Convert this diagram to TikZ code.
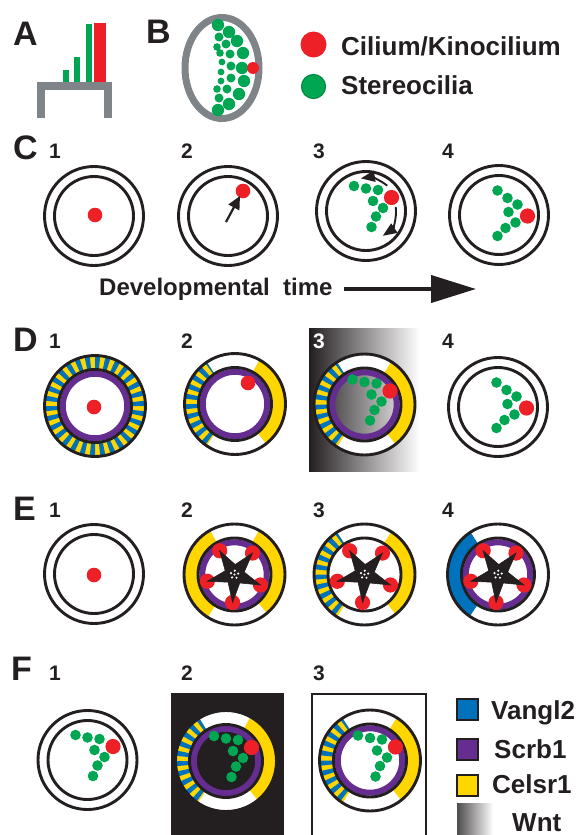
\documentclass[tikz,border=0pt]{standalone}
\usepackage{fontspec}
\setmainfont{Liberation Sans}
\usetikzlibrary{arrows.meta,shapes.geometric}

\definecolor{ink}{HTML}{231F20}
\definecolor{cilred}{HTML}{ED2027}
\definecolor{stereo}{HTML}{00A651}
\definecolor{stereoedge}{HTML}{008A45}
\definecolor{supgray}{HTML}{7F8488}
\definecolor{vblue}{HTML}{0072BC}
\definecolor{scrbpurple}{HTML}{662D91}
\definecolor{celsryellow}{HTML}{FFD600}

\tikzset{
  panel/.style={font=\fontsize{34}{36}\selectfont\bfseries, text=ink, inner sep=0pt, anchor=base west},
  stage/.style={font=\fontsize{21}{24}\selectfont\bfseries, text=ink, inner sep=0pt, anchor=base west},
  keytext/.style={font=\fontsize{26}{30}\selectfont\bfseries, text=ink, inner sep=0pt, anchor=base west},
  ringline/.style={draw=ink, line width=2.9pt},
  keybox/.style={draw=ink, line width=2pt, minimum size=21pt, inner sep=0pt},
  hairstar/.style={star, star points=5, star point ratio=2.8, minimum size=56pt,
    inner sep=0pt, fill=ink, draw=ink, line width=0.6pt, rotate=32},
  plainarrow/.style={draw=ink, line width=2.2pt, -{Triangle[length=13pt,width=12pt]}},
  curlarrow/.style={draw=ink, line width=1.9pt, -{Triangle[length=14pt,width=11pt]}},
}

% plain cell: outer and inner membrane
\newcommand{\twoRing}{\draw[ringline] (0,0) circle (49.5) (0,0) circle (39.5);}
% white band between the two membranes of a labelled cell
\newcommand{\membrane}{\fill[white, even odd rule] (0,0) circle (50.5) (0,0) circle (36.5);}
\newcommand{\membraneLines}{\draw[ringline] (0,0) circle (50.5) (0,0) circle (36.5);}
\newcommand{\scrbRing}{\draw[scrbpurple, line width=6pt] (0,0) circle (32.2);}
% solid coloured sector of the band, #1 to #2 degrees
\newcommand{\solidBand}[3]{\fill[#3] (#1:36.5) arc[start angle=#1,end angle=#2,radius=36.5]
  -- (#2:50.5) arc[start angle=#2,end angle=#1,radius=50.5] -- cycle;}
% blue/yellow striped sector of the band
\newcommand{\stripeBand}[2]{%
  \begin{scope}
    \clip (#1:36.5) arc[start angle=#1,end angle=#2,radius=36.5]
      -- (#2:50.5) arc[start angle=#2,end angle=#1,radius=50.5] -- cycle;
    \fill[celsryellow] (0,0) circle (52);
    \foreach \ang in {0,12,...,348} {\fill[vblue] (0,0) -- (\ang:54) arc[start angle=\ang,end angle=\ang+6,radius=54] -- cycle;}
  \end{scope}}
% kinocilium dot
\newcommand{\kino}[2]{\fill[cilred] (#1,#2) circle (7.3);}
% hair bundle shaped like a seven
\newcommand{\sevenBundle}{%
  \foreach \px/\py in {-12/-25, 0/-22.5, 12/-21, 7/-10, 17/-3, 10/5.5, 5.5/16} {\fill[stereo] (\px,\py) circle (5.3);}
  \fill[cilred] (25.5,-13.5) circle (7.6);}
% chevron hair bundle
\newcommand{\veeBundle}{%
  \foreach \px/\py in {-1.5/-24.5, 8.5/-17, 18.5/-10.5, 9.5/-3, 16.5/7.5, 6.5/13, -1.5/21} {\fill[stereo] (\px,\py) circle (5.3);}
  \fill[cilred] (28.5,1) circle (7.6);}
% star of microtubules with kinocilia at its points
\newcommand{\starCell}[1]{%
  \foreach \idx in {0,...,4} {\fill[cilred] ({122+72*\idx}:28) circle (7.6);}
  \node[hairstar] (#1) at (0,0) {};
  \foreach \idx in {0,...,4} {\fill[white] ({158+72*\idx}:3.8) circle (1.2);}
  \fill[white] (0,0) circle (1.1);}

\begin{document}
\begin{tikzpicture}[x=1pt,y=-1pt]
\useasboundingbox (0,0) rectangle (579,835);

% ---------- A: staircase bundle on the apical surface
\node[panel] (labA) at (13,45) {A};
\fill[stereo] (63,70) rectangle (69,83);
\fill[stereo] (74,57) rectangle (80,83);
\fill[stereo] (86,24) rectangle (92,83);
\fill[cilred] (94,23) rectangle (106,83);
\draw[supgray, line width=8pt] (41,118) -- (41,86) -- (107.5,86) -- (107.5,118);

% ---------- B: top view of the bundle
\node[panel] (labB) at (146,43) {B};
\draw[supgray, line width=7pt] (222,68) ellipse [x radius=37, y radius=50.5];
\foreach \px/\py/\pr in {218/25/6.2, 229/32/6.2, 219/37/4.5, 226/44/4.5, 237/41/6.2,
  217/47/3.8, 220/53/3.8, 230/54/4.5, 243/53/6.2, 222/62/3.4, 231/66/4.5, 242/68/6.2,
  221/72/3.4, 231/78/4.5, 244/81/6.2, 221/81/3.4, 217/89/3.8, 227/89/4.5, 239/94/6.2,
  219/98/4.5, 229/104/6.2, 218/110/6.2}
  {\fill[stereo] (\px,\py) circle (\pr);}
\fill[cilred] (253,68) circle (6);

% ---------- key to the dots
\fill[cilred] (313.5,44.5) circle (13);
\filldraw[fill=stereo, draw=stereoedge, line width=1.2pt] (313.5,86.5) circle (12);
\node[keytext] (kino) at (341,55) {Cilium/Kinocilium};
\node[keytext] (stereo) at (341,94) {Stereocilia};

% ---------- C: development of the bundle
\node[panel] (labC) at (13,159) {C};
\node[stage] (c1) at (49,158) {1};
\node[stage] (c2) at (181,158) {2};
\node[stage] (c3) at (313,158) {3};
\node[stage] (c4) at (442,158) {4};

\begin{scope}[shift={(94,216)}] \twoRing \end{scope}
\kino{95}{215}

\begin{scope}[shift={(228,216)}] \twoRing \end{scope}
\kino{243}{191}
\coordinate (c2tail) at (226,222);
\coordinate (c2tip) at (240,196);
\draw[plainarrow] (c2tail) -- (c2tip);

\begin{scope}[shift={(366,211)}] \twoRing \sevenBundle \end{scope}
\begin{scope}[shift={(366,211)}, yscale=-1]
  \draw[curlarrow] (50:33) arc[start angle=50,end angle=99,radius=33];
  \draw[curlarrow] (8:30) arc[start angle=8,end angle=-56,radius=30];
\end{scope}

\begin{scope}[shift={(499,215)}] \twoRing \veeBundle \end{scope}

\node[keytext, font=\fontsize{24}{28}\selectfont\bfseries] (devtime) at (99,295) {Developmental\ \ time};
\coordinate (tstart) at (344,289);
\coordinate (tend) at (476,289);
\draw[ink, line width=4pt, -{Triangle[length=45pt,width=27pt]}] (tstart) -- (tend);

% ---------- D: planar polarity proteins and Wnt
\node[panel] (labD) at (13,351) {D};
\node[stage] (d1) at (49,348) {1};
\node[stage] (d2) at (181,348) {2};
\shade[left color=ink, right color=white] (309,328) rectangle (420,471);
\node[stage, text=white] (d3) at (313,348) {3};
\node[stage] (d4) at (442,348) {4};

\begin{scope}[shift={(95,406)}, yscale=-1]
  \membrane \stripeBand{0}{360} \scrbRing \membraneLines
\end{scope}
\kino{94}{407}

\begin{scope}[shift={(235,404)}, yscale=-1]
  \membrane \stripeBand{124}{236} \solidBand{-52}{61}{celsryellow} \scrbRing \membraneLines
\end{scope}
\kino{248}{383}

\begin{scope}[shift={(364.5,404.5)}, yscale=-1]
  \membrane \stripeBand{123}{237} \solidBand{-52}{58}{celsryellow} \scrbRing \membraneLines
\end{scope}
\begin{scope}[shift={(364.5,404.5)}] \sevenBundle \end{scope}

\begin{scope}[shift={(498,407)}] \twoRing \veeBundle \end{scope}

% ---------- E: microtubule star
\node[panel] (labE) at (13,520) {E};
\node[stage] (e1) at (49,517) {1};
\node[stage] (e2) at (181,517) {2};
\node[stage] (e3) at (313,517) {3};
\node[stage] (e4) at (442,517) {4};

\begin{scope}[shift={(94,574)}] \twoRing \end{scope}
\kino{94}{575}

\begin{scope}[shift={(234.5,574.5)}, yscale=-1]
  \membrane \solidBand{119}{238}{celsryellow} \solidBand{-50}{61}{celsryellow} \scrbRing \membraneLines
  \starCell{stare2}
\end{scope}

\begin{scope}[shift={(364.5,574.5)}, yscale=-1]
  \membrane \stripeBand{123}{237} \solidBand{-52}{58}{celsryellow} \membraneLines
  \starCell{stare3}
\end{scope}

\begin{scope}[shift={(498,574.5)}, yscale=-1]
  \membrane \solidBand{123}{236}{vblue} \scrbRing \membraneLines
  \starCell{stare4}
\end{scope}

% ---------- F
\node[panel] (labF) at (11,680) {F};
\node[stage] (f1) at (49,680) {1};
\node[stage] (f2) at (181,680) {2};
\node[stage] (f3) at (313,680) {3};

\begin{scope}[shift={(87.5,760)}] \twoRing \sevenBundle \end{scope}

\fill[ink] (171,693) rectangle (284,836);
\begin{scope}[shift={(226,761)}, yscale=-1]
  \membrane \stripeBand{122}{236} \solidBand{-51}{61}{celsryellow} \scrbRing \membraneLines
\end{scope}
\begin{scope}[shift={(226,761)}] \sevenBundle \end{scope}

\draw[ink, line width=2.6pt] (312,836) -- (312,694) -- (426,694) -- (426,836);
\begin{scope}[shift={(370,760.5)}, yscale=-1]
  \membrane \stripeBand{123}{237} \solidBand{-52}{58}{celsryellow} \scrbRing \membraneLines
\end{scope}
\begin{scope}[shift={(370,760.5)}] \sevenBundle \end{scope}

% ---------- key to the proteins
\node[keybox, fill=vblue] (kvangl) at (467.5,709.5) {};
\node[keybox, fill=scrbpurple] (kscrb) at (467.5,749) {};
\node[keybox, fill=celsryellow] (kcelsr) at (467.5,785) {};
\shade[left color=ink!80, right color=white] (457,803) rectangle (493,836);
\node[keytext] (tvangl) at (491,719) {Vangl2};
\node[keytext] (tscrb) at (494,758) {Scrb1};
\node[keytext] (tcelsr) at (492,793) {Celsr1};
\node[keytext] (twnt) at (512,831) {Wnt};
\end{tikzpicture}
\end{document}
